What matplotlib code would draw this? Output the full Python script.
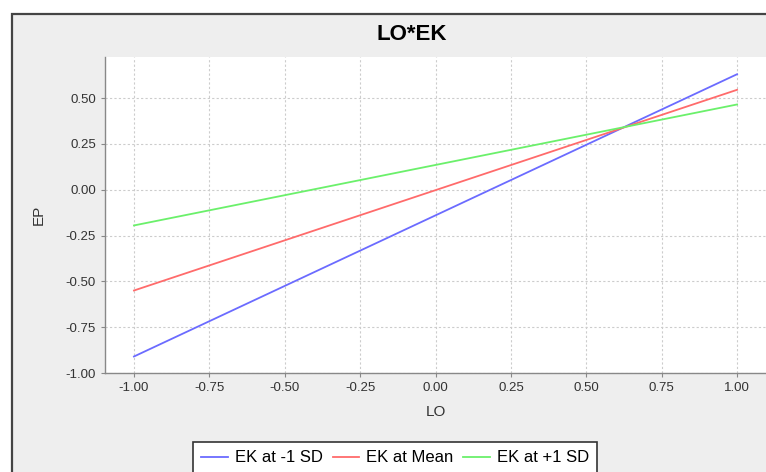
import matplotlib
matplotlib.use("Agg")
import matplotlib.pyplot as plt
from matplotlib.patches import Rectangle

# Simple slopes data
lo = [-1.0, 1.0]
ep_low = [-0.91, 0.63]     # EK at -1 SD
ep_mean = [-0.55, 0.545]   # EK at Mean
ep_high = [-0.195, 0.465]  # EK at +1 SD
labels = ["EK at -1 SD", "EK at Mean", "EK at +1 SD"]
colors = ["#6b6bff", "#ff6b6b", "#6bf06b"]
xticks = [-1.0, -0.75, -0.5, -0.25, 0.0, 0.25, 0.5, 0.75, 1.0]
yticks = [-1.0, -0.75, -0.5, -0.25, 0.0, 0.25, 0.5]

plt.rcParams['font.family'] = ['Liberation Sans', 'DejaVu Sans']

W, H = 766, 472
fig = plt.figure(figsize=(W / 100, H / 100), dpi=100)
fig.patch.set_facecolor("white")

# outer panel frame
frame = Rectangle((12 / W, -0.1), 1.2, (H - 14) / H + 0.1, transform=fig.transFigure,
                  facecolor="#eeeeee", edgecolor="#444444", lw=1.6, zorder=-5)
fig.patches.append(frame)

ax = fig.add_axes([105 / W, (H - 373) / H, (W - 105) / W, (373 - 57) / H])
ax.set_zorder(1)
ax.set_facecolor("white")

for y, lab, c in zip([ep_low, ep_mean, ep_high], labels, colors):
    ax.plot(lo, y, color=c, lw=1.3, label=lab)

ax.set_xlim(-1.096, 1.096)
ax.set_ylim(-1.0, 0.724)
ax.set_xticks(xticks)
ax.set_yticks(yticks)
ax.set_xticklabels([f"{v:.2f}" for v in xticks])
ax.set_yticklabels([f"{v:.2f}" for v in yticks])
ax.tick_params(colors="#888888", labelcolor="#333333", labelsize=9.5, length=3, width=0.8)
ax.grid(True, color="#cccccc", linestyle=(0, (2, 2)), lw=0.8)
ax.set_axisbelow(True)
for s in ["top", "right"]:
    ax.spines[s].set_visible(False)
for s in ["left", "bottom"]:
    ax.spines[s].set_color("#888888")
    ax.spines[s].set_linewidth(1.0)

ax.set_xlabel("LO", fontsize=11, color="#333333", labelpad=8)
ax.set_ylabel("EP", fontsize=11, color="#333333", labelpad=14)

fig.text(412 / W, 1 - 35 / H, "LO*EK", ha="center", va="center",
         fontsize=16, fontweight="bold", color="black")

leg = fig.legend(loc="upper center", bbox_to_anchor=(395 / W, (H - 442) / H), ncol=3,
                 frameon=True, fancybox=False, edgecolor="#333333", facecolor="white",
                 fontsize=12, handlelength=1.6, handletextpad=0.4, columnspacing=0.6,
                 borderpad=0.5, borderaxespad=0)
leg.get_frame().set_linewidth(1.2)
leg.get_frame().set_alpha(1)

fig.savefig("out.png", dpi=100)
